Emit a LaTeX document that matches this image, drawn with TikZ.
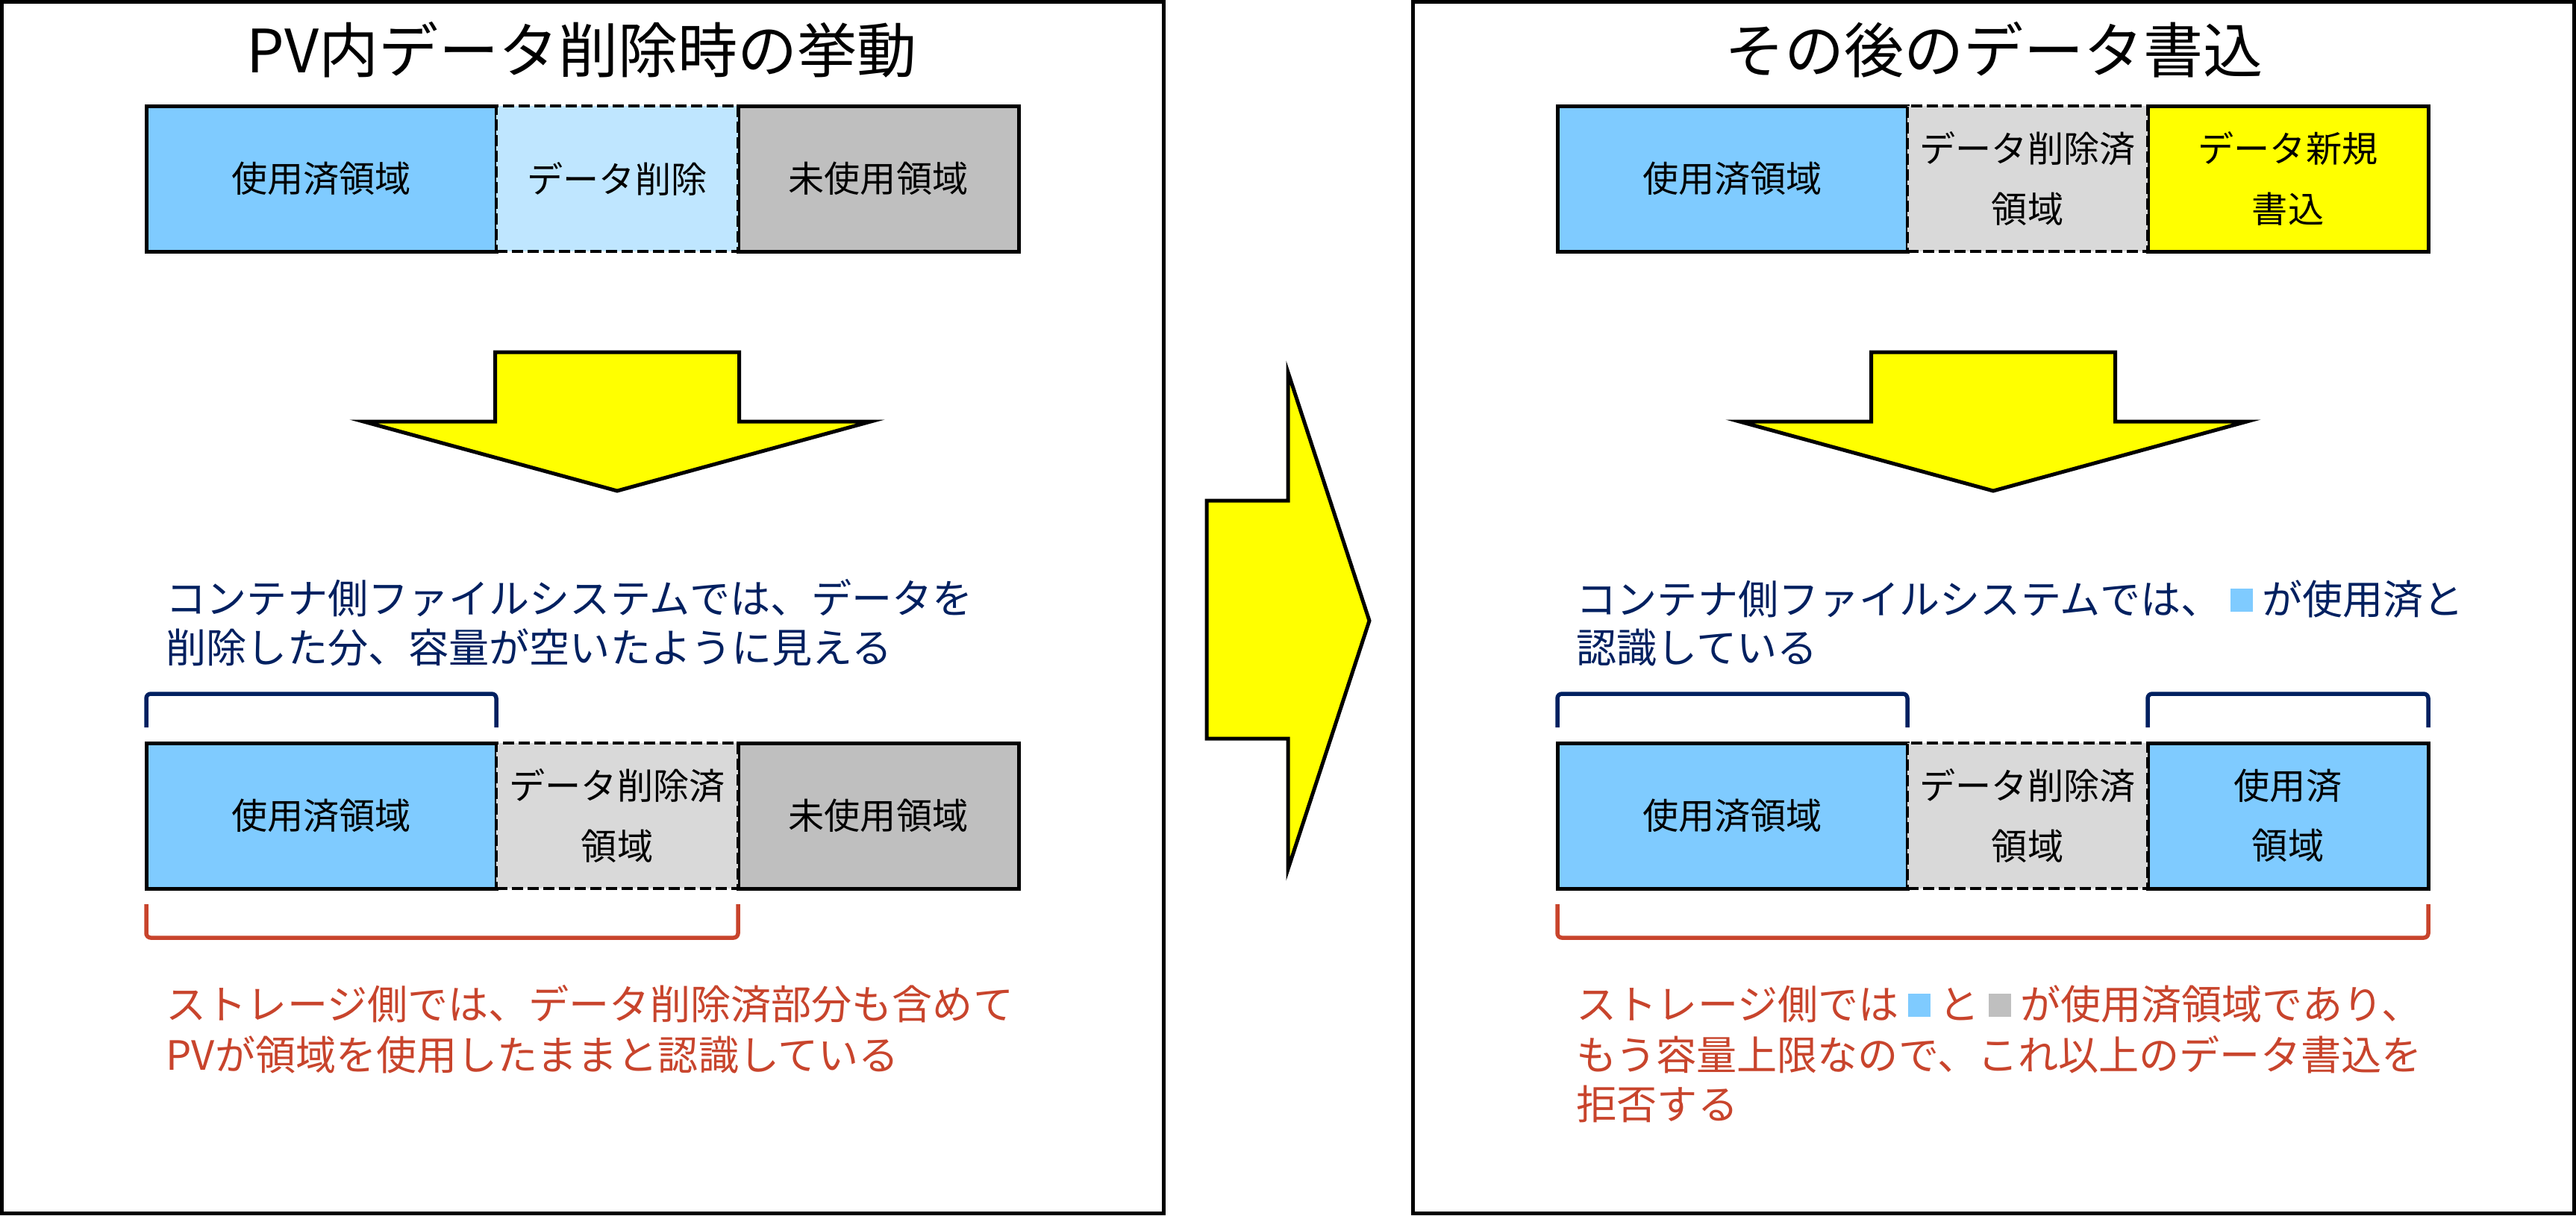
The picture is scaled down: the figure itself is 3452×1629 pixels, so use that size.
\documentclass[tikz,border=0pt]{standalone}
\usepackage{fontspec}
\setmainfont{Noto Sans CJK JP}

\definecolor{usedblue}{RGB}{127,203,255}
\definecolor{delblue}{RGB}{191,230,255}
\definecolor{delgray}{RGB}{217,217,217}
\definecolor{freegray}{RGB}{191,191,191}
\definecolor{newyellow}{RGB}{255,255,0}
\definecolor{navytext}{RGB}{0,32,96}
\definecolor{redtext}{RGB}{200,68,44}

\newcommand\labelfont{\fontsize{13.7pt}{22.8pt}\selectfont}
\newcommand\titlefont{\fontsize{22.8pt}{27pt}\selectfont}
\newcommand\notefont{\fontsize{15.4pt}{19pt}\selectfont}
% small coloured square set in a full-width cell
\newcommand\sqmark[1]{\makebox[1em]{\textcolor{#1}{\rule[0.06em]{0.55em}{0.56em}}}}

\begin{document}
\begin{tikzpicture}[x=0.1mm,y=-0.1mm,
  panel/.style={draw=black,line width=0.5mm},
  segbox/.style={draw=black,line width=0.5mm,anchor=north west,inner sep=0pt,
    outer sep=0pt,minimum height=19.5mm,align=center,font=\labelfont},
  delbox/.style={segbox,line width=0.45mm,dash pattern=on 1.5mm off 0.6mm},
  bigarrow/.style={draw=black,line width=0.5mm,fill=newyellow,line join=miter},
  navybr/.style={draw=navytext,line width=0.55mm,rounded corners=0.6mm},
  redbr/.style={draw=redtext,line width=0.55mm,rounded corners=0.6mm},
  titletext/.style={anchor=base,inner sep=0pt,font=\titlefont},
  navyline/.style={anchor=base west,inner sep=0pt,text=navytext,font=\notefont},
  redline/.style={anchor=base west,inner sep=0pt,text=redtext,font=\notefont}]

\useasboundingbox (0,0) rectangle (3452,1629);
\fill[white] (0,0) rectangle (3452,1629);

% ---------- panels ----------
\draw[panel] (2.5,2.5) rectangle (1559,1626.5);
\draw[panel] (1893,2.5) rectangle (3449.5,1626.5);

% ---------- left panel ----------
\node[titletext] (ltitle) at (780,97) {PV内データ削除時の挙動};

\node[segbox,fill=usedblue,minimum width=46.9mm] (lt1) at (196,142) {使用済領域};
\node[segbox,fill=freegray,minimum width=37.6mm] (lt3) at (989,142) {未使用領域};
\node[delbox,fill=delblue,minimum width=32.4mm] (lt2) at (665,142) {データ削除};

\draw[bigarrow] (663.5,472) -- (990.5,472) -- (990.5,565) -- (1167,565) -- (827,658)
  -- (487,565) -- (663.5,565) -- cycle;

\node[navyline] (ln1) at (222,822) {コンテナ側ファイルシステムでは、データを};
\node[navyline] (ln2) at (222,888) {削除した分、容量が空いたように見える};

\draw[navybr] (196,975) -- (196,930) -- (665,930) -- (665,975);

\node[segbox,fill=usedblue,minimum width=46.9mm] (lb1) at (196,996) {使用済領域};
\node[segbox,fill=freegray,minimum width=37.6mm] (lb3) at (989,996) {未使用領域};
\node[delbox,fill=delgray,minimum width=32.4mm] (lb2) at (665,996) {データ削除済\\領域};

\draw[redbr] (196,1212) -- (196,1257) -- (989,1257) -- (989,1212);

\node[redline] (lr1) at (222,1366) {ストレージ側では、データ削除済部分も含めて};
\node[redline] (lr2) at (222,1434) {PVが領域を使用したままと認識している};

% ---------- transition arrow ----------
\draw[bigarrow] (1617,671) -- (1726,671) -- (1726,499) -- (1835,832) -- (1726,1165)
  -- (1726,990) -- (1617,990) -- cycle;

% ---------- right panel ----------
\node[titletext] (rtitle) at (2672,97) {その後のデータ書込};

\node[segbox,fill=usedblue,minimum width=46.9mm] (rt1) at (2087,142) {使用済領域};
\node[segbox,fill=newyellow,minimum width=37.6mm] (rt3) at (2878,142) {データ新規\\書込};
\node[delbox,fill=delgray,minimum width=32.2mm] (rt2) at (2556,142) {データ削除済\\領域};

\draw[bigarrow] (2507.5,472) -- (2834.5,472) -- (2834.5,565) -- (3011,565) -- (2671,658)
  -- (2331,565) -- (2507.5,565) -- cycle;

\node[navyline] (rn1) at (2112,823) {コンテナ側ファイルシステムでは、\sqmark{usedblue}が使用済と};
\node[navyline] (rn2) at (2112,888) {認識している};

\draw[navybr] (2087,975) -- (2087,930) -- (2556,930) -- (2556,975);
\draw[navybr] (2878,975) -- (2878,930) -- (3254,930) -- (3254,975);

\node[segbox,fill=usedblue,minimum width=46.9mm] (rb1) at (2087,996) {使用済領域};
\node[segbox,fill=usedblue,minimum width=37.6mm] (rb3) at (2878,996) {使用済\\領域};
\node[delbox,fill=delgray,minimum width=32.2mm] (rb2) at (2556,996) {データ削除済\\領域};

\draw[redbr] (2087,1212) -- (2087,1257) -- (3254,1257) -- (3254,1212);

\node[redline] (rr1) at (2112,1366) {ストレージ側では\sqmark{usedblue}と\sqmark{freegray}が使用済領域であり、};
\node[redline] (rr2) at (2112,1434) {もう容量上限なので、これ以上のデータ書込を};
\node[redline] (rr3) at (2112,1500) {拒否する};
\end{tikzpicture}
\end{document}
